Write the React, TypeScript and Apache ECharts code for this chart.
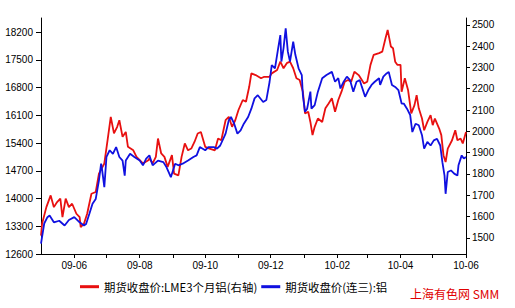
import React, { useEffect, useRef } from "react";
import * as echarts from "echarts";

// ---- data ----
const seriesNames = ["期货收盘价:LME3个月铝(右轴)", "期货收盘价(连三):铝"];

const redDates = [
  "2009-05-01","2009-05-02","2009-05-06","2009-05-10","2009-05-13","2009-05-16","2009-05-19","2009-05-21","2009-05-24","2009-05-27","2009-05-30",
  "2009-06-03","2009-06-06","2009-06-07","2009-06-10","2009-06-13","2009-06-17","2009-06-21","2009-06-24","2009-06-29",
  "2009-07-02","2009-07-05","2009-07-08","2009-07-11","2009-07-13","2009-07-16","2009-07-19","2009-07-21","2009-07-26","2009-07-29",
  "2009-08-04","2009-08-09","2009-08-10","2009-08-13","2009-08-16","2009-08-18","2009-08-21","2009-08-24","2009-08-27","2009-08-31",
  "2009-09-02","2009-09-06","2009-09-09","2009-09-12","2009-09-15","2009-09-18","2009-09-21","2009-09-24","2009-09-27",
  "2009-10-01","2009-10-05","2009-10-10","2009-10-13","2009-10-16","2009-10-20","2009-10-23","2009-10-26","2009-10-29",
  "2009-11-01","2009-11-05","2009-11-08","2009-11-11","2009-11-13","2009-11-17","2009-11-22","2009-11-25","2009-11-30",
  "2009-12-02","2009-12-07","2009-12-10","2009-12-13","2009-12-16","2009-12-19","2009-12-22","2009-12-25","2009-12-28","2009-12-31",
  "2010-01-02","2010-01-05","2010-01-07","2010-01-09","2010-01-11","2010-01-14","2010-01-18","2010-01-21","2010-01-24","2010-01-27","2010-01-30",
  "2010-02-02","2010-02-05","2010-02-08","2010-02-11","2010-02-14","2010-02-17","2010-02-21","2010-02-26",
  "2010-03-01","2010-03-04","2010-03-07","2010-03-12","2010-03-15","2010-03-18","2010-03-20","2010-03-23","2010-03-25","2010-03-27","2010-03-29",
  "2010-04-01","2010-04-02","2010-04-05","2010-04-08","2010-04-11","2010-04-14","2010-04-16","2010-04-18","2010-04-21","2010-04-23","2010-04-26","2010-04-29",
  "2010-05-01","2010-05-03","2010-05-07","2010-05-09","2010-05-11","2010-05-13","2010-05-15","2010-05-19","2010-05-22","2010-05-24","2010-05-27","2010-05-29",
  "2010-06-01"
];
const redValues = [
  1510,1566,1644,1699,1644,1668,1684,1597,1684,1644,1660,
  1613,1597,1550,1566,1613,1707,1715,1801,1849,
  1958,2068,1990,2021,2052,1974,1997,1927,1911,1880,
  1849,1864,1872,1849,1880,1966,1896,1880,1833,1888,
  1801,1793,1880,1943,1911,1919,1950,1990,1997,
  1927,1919,1911,1966,1958,2052,2068,2021,2052,
  2100,2147,2139,2209,2272,2264,2249,2256,2256,
  2272,2288,2327,2296,2320,2327,2296,2249,2241,2186,
  2084,2092,2044,1982,2021,2060,2044,2108,2131,2155,2092,
  2147,2186,2233,2241,2233,2280,2264,2225,
  2233,2312,2359,2367,2374,2437,2476,2398,2390,2327,2312,
  2312,2186,2249,2194,2084,2123,2170,2108,2060,2005,2044,2076,
  2029,2060,2013,1982,1888,1856,1919,1958,2005,1958,1966,1943,
  1997
];

const blueDates = [
  "2009-05-01","2009-05-04","2009-05-07","2009-05-09","2009-05-13","2009-05-18","2009-05-23","2009-05-27",
  "2009-06-01","2009-06-06","2009-06-10","2009-06-12","2009-06-15","2009-06-18","2009-06-21","2009-06-24","2009-06-26","2009-06-27","2009-06-29",
  "2009-07-01","2009-07-04","2009-07-07","2009-07-10","2009-07-13","2009-07-16","2009-07-18","2009-07-19","2009-07-23","2009-07-27",
  "2009-08-01","2009-08-04","2009-08-07","2009-08-10","2009-08-13","2009-08-18","2009-08-23","2009-08-26","2009-08-30",
  "2009-09-03","2009-09-06","2009-09-10","2009-09-15","2009-09-20","2009-09-23","2009-09-26",
  "2009-10-01","2009-10-04","2009-10-09","2009-10-12","2009-10-15","2009-10-20","2009-10-23","2009-10-25","2009-10-28","2009-10-31",
  "2009-11-03","2009-11-06","2009-11-10","2009-11-13","2009-11-16","2009-11-19","2009-11-24","2009-11-27","2009-11-30",
  "2009-12-02","2009-12-05","2009-12-08","2009-12-10","2009-12-11","2009-12-13","2009-12-15","2009-12-17","2009-12-19","2009-12-22","2009-12-24","2009-12-27","2009-12-30","2009-12-31",
  "2010-01-02","2010-01-04","2010-01-07","2010-01-08","2010-01-11","2010-01-14","2010-01-18","2010-01-22","2010-01-27","2010-01-30",
  "2010-02-02","2010-02-04","2010-02-07","2010-02-10","2010-02-13","2010-02-16","2010-02-19","2010-02-22","2010-02-24","2010-02-27",
  "2010-03-02","2010-03-05","2010-03-08","2010-03-12","2010-03-13","2010-03-16","2010-03-19","2010-03-21","2010-03-24","2010-03-27","2010-03-30",
  "2010-04-02","2010-04-04","2010-04-07","2010-04-10","2010-04-12","2010-04-15","2010-04-18","2010-04-21","2010-04-23","2010-04-26","2010-04-29",
  "2010-05-02","2010-05-05","2010-05-08","2010-05-10","2010-05-12","2010-05-13","2010-05-15","2010-05-18","2010-05-21","2010-05-24","2010-05-25","2010-05-28","2010-05-30",
  "2010-06-01"
];
const blueValues = [
  12860,13370,13530,13570,13400,13440,13320,13460,
  13530,13400,13320,13360,13610,13870,13990,14460,14880,14710,14290,
  15050,15220,15130,15300,15050,14960,14580,14960,15130,15050,
  14960,14840,15010,15090,14840,14960,14920,14790,14540,
  14880,14840,14880,14960,15050,15090,15300,
  15220,15300,15300,15260,15340,15640,15980,16060,15890,15640,
  15720,15890,16060,16270,16530,16610,16440,16490,16950,
  17370,17290,17800,18130,17460,17800,18300,17710,17460,17960,17630,17290,17120,16610,
  16190,16270,16700,16270,16360,16700,17040,17120,17200,16950,
  17040,16780,16950,17080,16990,16700,16950,16990,16820,16570,
  16740,16870,16950,17040,16870,17080,17160,17200,16870,16820,16740,
  16400,16400,16270,16110,15680,15890,15850,15600,15260,15430,15340,
  15470,15510,15340,14920,14580,14120,14670,14710,14630,14580,14840,15090,15010,
  15050
];

const leftTicks = [12600, 13300, 14000, 14700, 15400, 16100, 16800, 17500, 18200];
const rightTicks = [1500, 1600, 1700, 1800, 1900, 2000, 2100, 2200, 2300, 2400, 2500];
const monthTickDates = [
  "2009-06-01","2009-07-01","2009-08-01","2009-09-01","2009-10-01","2009-11-01","2009-12-01",
  "2010-01-01","2010-02-01","2010-03-01","2010-04-01","2010-05-01","2010-06-01"
];
const labelDates = ["2009-06-01","2009-08-01","2009-10-01","2009-12-01","2010-02-01","2010-04-01","2010-06-01"];
const xStart = "2009-05-01";
const xEnd = "2010-06-01";
const leftRange = [12600, 18560];
const rightRange = [1424, 2532];
const sourceText = "上海有色网 SMM";

const ts = (s: string) => {
  const [y, m, d] = s.split("-").map(Number);
  return Date.UTC(y, m - 1, d);
};
const fmt = (v: number) => {
  const d = new Date(v);
  const yy = String(d.getUTCFullYear() % 100).padStart(2, "0");
  const mm = String(d.getUTCMonth() + 1).padStart(2, "0");
  return `${yy}-${mm}`;
};

export default function App() {
  const ref = useRef<HTMLDivElement>(null);
  useEffect(() => {
    if (!ref.current) return;
    const chart = echarts.init(ref.current, undefined, { renderer: "svg" });
    const axisFont = { fontFamily: "Liberation Sans", fontSize: 10, color: "#000" };
    chart.setOption({
      animation: false,
      backgroundColor: "#fff",
      grid: { left: 41, right: 49, top: 18, bottom: 54, containLabel: false, outerBoundsMode: "none" },
      xAxis: {
        type: "value",
        min: ts(xStart),
        max: ts(xEnd),
        axisLine: { show: true, lineStyle: { color: "#000", width: 1 } },
        axisTick: { show: true, length: 4, lineStyle: { color: "#000" }, customValues: monthTickDates.map(ts) },
        axisLabel: { ...axisFont, margin: 6, customValues: labelDates.map(ts), formatter: (v: number) => fmt(v) },
        splitLine: { show: false },
      },
      yAxis: [
        {
          type: "value",
          position: "left",
          min: leftRange[0],
          max: leftRange[1],
          axisLine: { show: true, lineStyle: { color: "#000", width: 1 } },
          axisTick: { show: true, length: 5, lineStyle: { color: "#000" }, customValues: leftTicks },
          axisLabel: { ...axisFont, margin: 8, customValues: leftTicks, formatter: (v: number) => String(v) },
          splitLine: { show: false },
        },
        {
          type: "value",
          position: "right",
          min: rightRange[0],
          max: rightRange[1],
          axisLine: { show: true, lineStyle: { color: "#000", width: 1 } },
          axisTick: { show: true, length: 4, lineStyle: { color: "#000" }, customValues: rightTicks },
          axisLabel: { ...axisFont, margin: 6, customValues: rightTicks, formatter: (v: number) => String(v) },
          splitLine: { show: false },
        },
      ],
      legend: {
        data: seriesNames,
        left: 75,
        top: 276,
        icon: "rect",
        itemWidth: 19,
        itemHeight: 3,
        itemGap: 4,
        textStyle: { fontFamily: "Noto Sans CJK SC", fontSize: 11.4, color: "#000" },
      },
      graphic: [
        {
          type: "text",
          left: 410,
          top: 287,
          style: { text: sourceText, fill: "#e00000", font: '12px "Noto Sans CJK SC"' },
        },
      ],
      series: [
        {
          name: seriesNames[0],
          type: "line",
          yAxisIndex: 1,
          symbol: "none",
          lineStyle: { color: "#e81010", width: 1.8 },
          itemStyle: { color: "#e81010" },
          data: redDates.map((d, i) => [ts(d), redValues[i]]),
        },
        {
          name: seriesNames[1],
          type: "line",
          yAxisIndex: 0,
          symbol: "none",
          lineStyle: { color: "#1010e0", width: 1.8 },
          itemStyle: { color: "#1010e0" },
          data: blueDates.map((d, i) => [ts(d), blueValues[i]]),
        },
      ],
    });
    return () => chart.dispose();
  }, []);
  return <div ref={ref} style={{ position: "fixed", left: 0, top: 0, width: 515, height: 308 }} />;
}
